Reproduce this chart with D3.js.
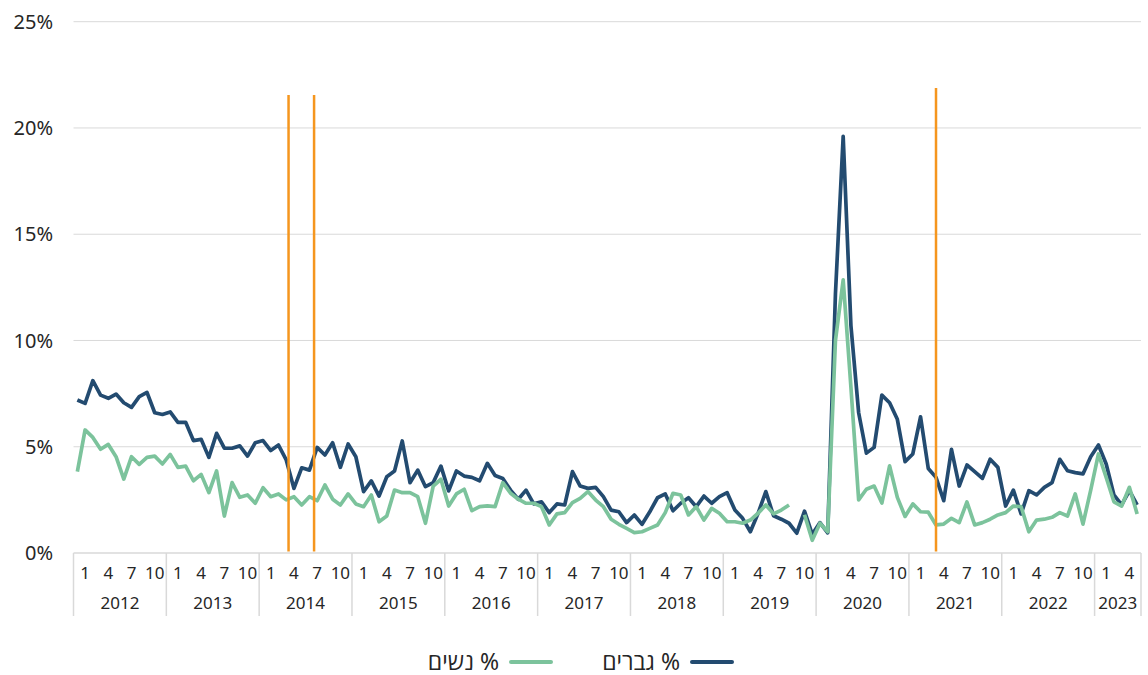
<!DOCTYPE html>
<html lang="he">
  <head>
    <script src="https://d3js.org/d3.v7.min.js"></script>
    <meta charset="utf-8">
    <title></title>
    <style>
      body { margin: 0; background: #fff; }
      text { font-family: "Noto Sans", "Open Sans", sans-serif; fill: #262626; }
    </style>
  </head>
  <body>
    <svg id="chart" width="1148" height="675"></svg>
    <script type="text/javascript">

    // monthly values, Jan 2012 .. Jun 2023 (%)
    var years = [2012, 2013, 2014, 2015, 2016, 2017, 2018, 2019, 2020, 2021, 2022, 2023];
    var monthTicks = [1, 4, 7, 10];
    var yTicks = [0, 5, 10, 15, 20, 25];

    var men = [
      7.2, 7.04, 8.11, 7.43, 7.28, 7.48, 7.07, 6.85, 7.36, 7.56, 6.6, 6.52,
      6.64, 6.15, 6.15, 5.29, 5.35, 4.5, 5.63, 4.93, 4.93, 5.04, 4.56, 5.19,
      5.29, 4.82, 5.08, 4.38, 3.04, 4.01, 3.9, 4.97, 4.61, 5.19, 4.03, 5.13,
      4.53, 2.89, 3.39, 2.68, 3.59, 3.86, 5.27, 3.31, 3.9, 3.12, 3.31, 4.09,
      2.92, 3.86, 3.62, 3.56, 3.4, 4.22, 3.65, 3.51, 2.96, 2.53, 2.96, 2.31,
      2.41, 1.9, 2.31, 2.26, 3.83, 3.15, 3.04, 3.09, 2.65, 2.02, 1.94, 1.43,
      1.79, 1.35, 1.94, 2.6, 2.78, 1.99, 2.34, 2.6, 2.18, 2.68, 2.34, 2.65,
      2.84, 2.02, 1.63, 1.0, 1.87, 2.89, 1.75, 1.59, 1.4, 0.93, 1.97, 0.88,
      1.43, 0.95, 12.2, 19.6, 10.7, 6.6, 4.7, 4.97, 7.43, 7.07, 6.29, 4.3,
      4.66, 6.41, 3.98, 3.56, 2.46, 4.88, 3.15, 4.14, 3.83, 3.51, 4.41, 4.03,
      2.21, 2.96, 1.84, 2.93, 2.73, 3.09, 3.31, 4.41, 3.87, 3.78, 3.72, 4.53,
      5.08, 4.19, 2.73, 2.26, 2.93, 2.26
    ];

    var women = [
      3.83, 5.79, 5.44, 4.88, 5.11, 4.53, 3.48, 4.53, 4.17, 4.5, 4.56, 4.19,
      4.64, 4.03, 4.09, 3.4, 3.7, 2.84, 3.86, 1.74, 3.31, 2.62, 2.73, 2.34,
      3.07, 2.65, 2.78, 2.5, 2.65, 2.26, 2.65, 2.46, 3.2, 2.53, 2.26, 2.78,
      2.31, 2.18, 2.73, 1.47, 1.74, 2.96, 2.84, 2.84, 2.65, 1.4, 3.15, 3.47,
      2.21, 2.78, 3.0, 1.99, 2.18, 2.22, 2.18, 3.31, 2.81, 2.53, 2.34, 2.34,
      2.18, 1.32, 1.84, 1.9, 2.37, 2.57, 2.89, 2.49, 2.18, 1.59, 1.35, 1.16,
      0.96, 1.0, 1.16, 1.32, 1.9, 2.81, 2.73, 1.79, 2.18, 1.55, 2.1, 1.87,
      1.47, 1.47, 1.4, 1.55, 1.87, 2.26, 1.84, 2.02, 2.26, null, 1.8, 0.6,
      1.4, 1.0, 10.0, 12.85, 7.8, 2.5, 3.0, 3.15, 2.35, 4.1, 2.62, 1.72,
      2.31, 1.94, 1.92, 1.32, 1.36, 1.63, 1.43, 2.4, 1.32, 1.43, 1.59, 1.79,
      1.9, 2.21, 2.18, 1.0, 1.55, 1.59, 1.68, 1.9, 1.74, 2.78, 1.36, 2.96,
      4.66, 3.56, 2.41, 2.21, 3.09, 1.84
    ];

    // vertical markers: position in months since Jan 2012, top in %
    var markerMonths = [27.8, 31.1, 111.5];
    var markerTops = [21.55, 21.55, 21.88];

    var seriesNames = ["% גברים", "% נשים"];
    var seriesColors = ["#234b70", "#7cc39c"];

    var svg = d3.select("#chart");
    var plotLeft = 73.5, plotRight = 1141, plotTop = 21.7, plotBottom = 553;
    var n = men.length;

    var x = d3.scaleLinear().domain([0, n]).range([plotLeft, plotRight]);
    var y = d3.scaleLinear().domain([0, 25]).range([plotBottom, plotTop]);

    // gridlines
    svg.append("g").selectAll("line")
      .data(yTicks)
      .enter()
      .append("line")
      .attr("x1", plotLeft)
      .attr("x2", plotRight)
      .attr("y1", function(d) { return y(d); })
      .attr("y2", function(d) { return y(d); })
      .attr("stroke", "#d9d9d9")
      .attr("stroke-width", function(d) { return d == 0 ? 1.5 : 1; });

    svg.append("g").selectAll("text")
      .data(yTicks)
      .enter()
      .append("text")
      .attr("x", 53)
      .attr("y", function(d) { return y(d); })
      .attr("dy", "0.36em")
      .attr("text-anchor", "end")
      .attr("font-size", 20)
      .text(function(d) { return d + "%"; });

    // category axis: year separators, month labels, year labels
    var bounds = years.map(function(yr, i) { return i * 12; }).concat([n]);
    svg.append("g").selectAll("line")
      .data(bounds)
      .enter()
      .append("line")
      .attr("x1", function(d) { return x(d); })
      .attr("x2", function(d) { return x(d); })
      .attr("y1", plotBottom)
      .attr("y2", 616)
      .attr("stroke", "#d9d9d9")
      .attr("stroke-width", 1.5);

    var monthLabels = [];
    years.forEach(function(yr, i)
    {
      monthTicks.forEach(function(m)
      {
        var idx = i * 12 + m - 1;
        if (idx < n) monthLabels.push({idx: idx, m: m});
      });
    });
    svg.append("g").selectAll("text")
      .data(monthLabels)
      .enter()
      .append("text")
      .attr("x", function(d) { return x(Math.min(d.idx + 1.5, n - 1.5)); })
      .attr("y", 573)
      .attr("dy", "0.36em")
      .attr("text-anchor", "middle")
      .attr("font-size", 17)
      .text(function(d) { return d.m; });

    svg.append("g").selectAll("text")
      .data(years)
      .enter()
      .append("text")
      .attr("x", function(d, i) { return (x(bounds[i]) + x(bounds[i + 1])) / 2; })
      .attr("y", 603)
      .attr("dy", "0.36em")
      .attr("text-anchor", "middle")
      .attr("font-size", 17)
      .text(function(d) { return d; });

    // series lines
    var line = d3.line()
      .defined(function(d) { return d != null; })
      .x(function(d, i) { return x(i + 0.5); })
      .y(function(d) { return y(d); });

    [men, women].forEach(function(s, k)
    {
      svg.append("path")
        .datum(s)
        .attr("fill", "none")
        .attr("stroke", seriesColors[k])
        .attr("stroke-width", 3.7)
        .attr("stroke-linejoin", "round")
        .attr("d", line);
    });

    // orange markers
    svg.append("g").selectAll("line")
      .data(markerMonths)
      .enter()
      .append("line")
      .attr("x1", function(d) { return x(d); })
      .attr("x2", function(d) { return x(d); })
      .attr("y1", function(d, i) { return y(markerTops[i]); })
      .attr("y2", y(0.07))
      .attr("stroke", "#f5961e")
      .attr("stroke-width", 2.5);

    // legend (right to left)
    var legendX = [732, 551];
    var legend = svg.append("g");
    seriesNames.forEach(function(name, k)
    {
      var g = legend.append("g");
      g.append("line")
        .attr("x1", legendX[k] - 40)
        .attr("x2", legendX[k])
        .attr("y1", 662)
        .attr("y2", 662)
        .attr("stroke", seriesColors[k])
        .attr("stroke-width", 4)
        .attr("stroke-linecap", "round");
      g.append("text")
        .attr("x", legendX[k] - 52)
        .attr("y", 662)
        .attr("dy", "0.36em")
        .attr("font-size", 23)
        .attr("direction", "rtl")
        .attr("text-anchor", "start")
        .text(name);
    });

    </script>
  </body>
</html>
